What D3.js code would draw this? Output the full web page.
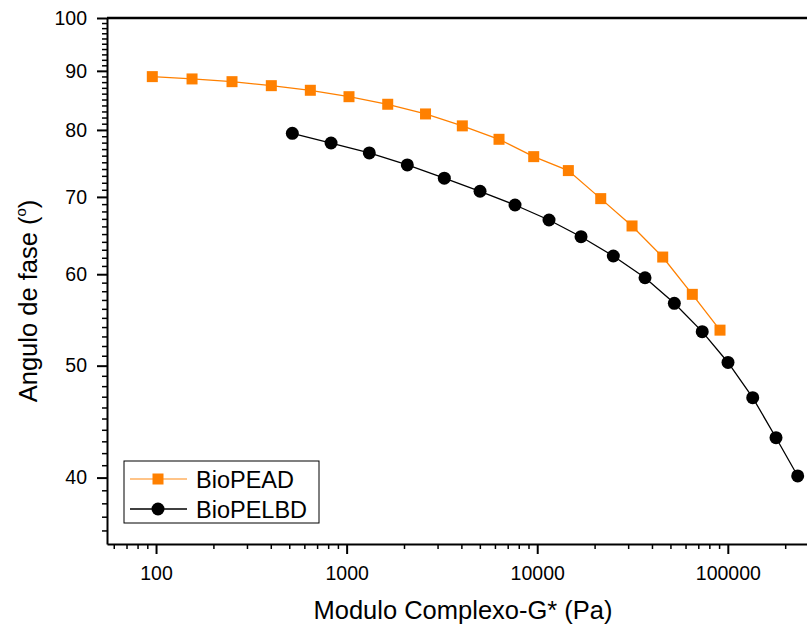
<!DOCTYPE html>
<html>
<head>
<meta charset="utf-8">
<script src="https://cdn.jsdelivr.net/npm/d3@7"></script>
<style>
  body { margin: 0; background: #fff; }
  svg { display: block; }
  text { font-family: "Liberation Sans", Arial, sans-serif; fill: #000; }
</style>
</head>
<body>
<div id="chart"></div>
<script>
// BioPEAD (squares)
const peadG = [95.6, 154.5, 250.4, 402.6, 645, 1029, 1643, 2594, 4046, 6303, 9585, 14565, 21538, 31440, 45545, 65125, 91000];
const peadPhase = [88.97, 88.56, 88.08, 87.38, 86.58, 85.48, 84.20, 82.59, 80.65, 78.52, 75.85, 73.77, 69.76, 66.06, 62.09, 57.64, 53.67];

// BioPELBD (circles)
const pelbdG = [518.9, 828.4, 1315, 2082, 3255, 5012, 7647, 11531, 16976, 25079, 36781, 52410, 73400, 100230, 135100, 179000, 232600];
const pelbdPhase = [79.46, 77.94, 76.41, 74.61, 72.66, 70.79, 68.88, 66.85, 64.66, 62.22, 59.58, 56.62, 53.51, 50.32, 46.91, 43.31, 40.13];

const xTicks = [100, 1000, 10000, 100000];
const yTicks = [40, 50, 60, 70, 80, 90, 100];
const seriesNames = ["BioPEAD", "BioPELBD"];

const W = 807, H = 628;
const margin = {top: 18, right: 0, bottom: 84, left: 107};
const width = W - margin.left - margin.right;
const height = H - margin.top - margin.bottom;

const svg = d3.select("#chart").append("svg")
    .attr("width", W)
    .attr("height", H);

const g = svg.append("g")
    .attr("transform", `translate(${margin.left},${margin.top})`);

const x = d3.scaleLog().domain([55.3, 260300]).range([0, width]);
const y = d3.scaleLog().domain([35.04, 100]).range([height, 0]);

// minor tick values
const xMinor = [];
for (let dec = 10; dec <= 100000; dec *= 10) {
    for (let m = 2; m <= 9; m++) {
        const v = dec * m;
        if (v >= 55.3 && v <= 260300) xMinor.push(v);
    }
}
const yMinor = d3.range(36, 100).filter(v => yTicks.indexOf(v) < 0);

// x axis
g.append("g")
    .attr("transform", `translate(0,${height})`)
    .call(d3.axisBottom(x).tickValues(xMinor).tickSize(5).tickFormat(""))
    .call(a => a.select(".domain").remove())
    .selectAll("line").attr("stroke-width", 1.5);

const xAxis = g.append("g")
    .attr("transform", `translate(0,${height})`)
    .call(d3.axisBottom(x).tickValues(xTicks).tickSize(10).tickSizeOuter(0).tickPadding(12).tickFormat(d3.format("d")));
xAxis.select(".domain").attr("stroke-width", 2);
xAxis.selectAll("line").attr("stroke-width", 2);
xAxis.selectAll("text").style("font-size", "19.5px");

// y axis
g.append("g")
    .call(d3.axisLeft(y).tickValues(yMinor).tickSize(5).tickFormat(""))
    .call(a => a.select(".domain").remove())
    .selectAll("line").attr("stroke-width", 1.5);

const yAxis = g.append("g")
    .call(d3.axisLeft(y).tickValues(yTicks).tickSize(10).tickSizeOuter(0).tickPadding(10).tickFormat(d3.format("d")));
yAxis.select(".domain").attr("stroke-width", 2);
yAxis.selectAll("line").attr("stroke-width", 2);
yAxis.selectAll("text").style("font-size", "19.5px");

// top frame line
g.append("line")
    .attr("x1", 0).attr("x2", width)
    .attr("y1", 0).attr("y2", 0)
    .attr("stroke", "#000")
    .attr("stroke-width", 2.5);

// axis titles
svg.append("text")
    .attr("x", 463)
    .attr("y", 619)
    .attr("text-anchor", "middle")
    .style("font-size", "25.5px")
    .text("Modulo Complexo-G* (Pa)");

const yTitle = svg.append("text")
    .attr("transform", "translate(37,301) rotate(-90)")
    .attr("text-anchor", "middle")
    .style("font-size", "25.5px");
yTitle.append("tspan").text("Angulo de fase (");
yTitle.append("tspan").attr("dy", -11).style("font-size", "15px").text("o");
yTitle.append("tspan").attr("dy", 11).text(")");

// series
const pead = peadG.map((v, i) => ({g: v, p: peadPhase[i]}));
const pelbd = pelbdG.map((v, i) => ({g: v, p: pelbdPhase[i]}));

const line = d3.line().x(d => x(d.g)).y(d => y(d.p));

g.append("path")
    .datum(pead)
    .attr("fill", "none")
    .attr("stroke", "#ff8000")
    .attr("stroke-width", 1.3)
    .attr("d", line);

g.append("path")
    .datum(pelbd)
    .attr("fill", "none")
    .attr("stroke", "#000")
    .attr("stroke-width", 1.3)
    .attr("d", line);

const sq = 11;
g.selectAll(".sq")
    .data(pead)
    .enter()
    .append("rect")
    .attr("class", "sq")
    .attr("x", d => x(d.g) - sq / 2)
    .attr("y", d => y(d.p) - sq / 2)
    .attr("width", sq)
    .attr("height", sq)
    .attr("fill", "#ff8000");

g.selectAll(".dot")
    .data(pelbd)
    .enter()
    .append("circle")
    .attr("class", "dot")
    .attr("cx", d => x(d.g))
    .attr("cy", d => y(d.p))
    .attr("r", 6.5)
    .attr("fill", "#000");

// legend
const legend = svg.append("g").attr("transform", "translate(124,461)");
legend.append("rect")
    .attr("width", 195)
    .attr("height", 62)
    .attr("fill", "#fff")
    .attr("stroke", "#000")
    .attr("stroke-width", 1);

const colors = ["#ff8000", "#000"];
seriesNames.forEach((name, i) => {
    const row = legend.append("g").attr("transform", `translate(0,${18 + i * 30})`);
    row.append("line")
        .attr("x1", 6).attr("x2", 63)
        .attr("stroke", i === 0 ? "#ffb060" : "#000")
        .attr("stroke-width", 1.3);
    if (i === 0) {
        row.append("rect")
            .attr("x", 34 - sq / 2).attr("y", -sq / 2)
            .attr("width", sq).attr("height", sq)
            .attr("fill", colors[i]);
    } else {
        row.append("circle")
            .attr("cx", 34).attr("r", 6.5)
            .attr("fill", colors[i]);
    }
    row.append("text")
        .attr("x", 72)
        .attr("y", 8.5)
        .style("font-size", "23.5px")
        .text(name);
});
</script>
</body>
</html>
